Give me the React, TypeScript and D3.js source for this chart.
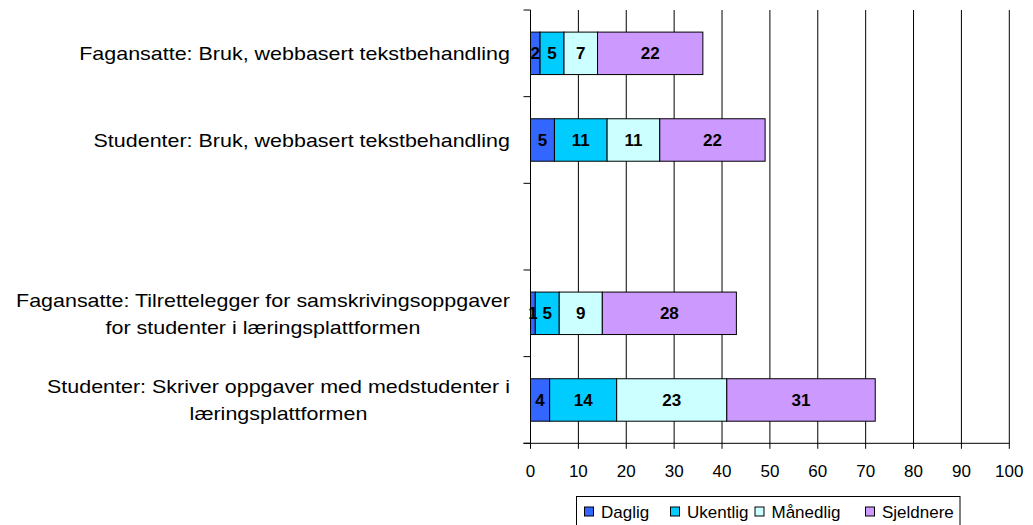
import React, { useEffect, useRef } from "react";
import * as d3 from "d3";

const categories: string[][] = [
  ["Fagansatte: Bruk, webbasert tekstbehandling"],
  ["Studenter: Bruk, webbasert tekstbehandling"],
  [],
  ["Fagansatte: Tilrettelegger for samskrivingsoppgaver", "for studenter i læringsplattformen"],
  ["Studenter: Skriver oppgaver med medstudenter i", "læringsplattformen"],
];

const seriesNames = ["Daglig", "Ukentlig", "Månedlig", "Sjeldnere"];
const daglig = [2, 5, null, 1, 4];
const ukentlig = [5, 11, null, 5, 14];
const manedlig = [7, 11, null, 9, 23];
const sjeldnere = [22, 22, null, 28, 31];
const seriesValues = [daglig, ukentlig, manedlig, sjeldnere];
const xTicks = [0, 10, 20, 30, 40, 50, 60, 70, 80, 90, 100];
const colors = ["#3366FF", "#00CCFF", "#CCFFFF", "#CC99FF"];

const W = 1033;
const H = 525;

export default function App() {
  const ref = useRef<SVGSVGElement>(null);

  useEffect(() => {
    const svg = d3.select(ref.current);
    svg.selectAll("*").remove();
    const font = "'Liberation Sans', Arial, sans-serif";

    const x = d3.scaleLinear().domain([0, 100]).range([530.5, 1009.3]);
    const y = d3
      .scaleBand<number>()
      .domain(categories.map((_, i) => i))
      .range([10, 443.3])
      .padding(0);
    const barH = y.bandwidth() * 0.49;
    const axisY = 443.3;

    // gridlines
    svg
      .append("g")
      .selectAll("line")
      .data(xTicks.filter((t) => t > 0))
      .join("line")
      .attr("x1", (d) => x(d))
      .attr("x2", (d) => x(d))
      .attr("y1", 10)
      .attr("y2", axisY + 5.5)
      .attr("stroke", "#000")
      .attr("stroke-width", 1);

    // bars
    const stacks: { cat: number; s: number; x0: number; x1: number; v: number }[] = [];
    categories.forEach((_, ci) => {
      let acc = 0;
      seriesValues.forEach((arr, si) => {
        const v = arr[ci];
        if (v == null) return;
        stacks.push({ cat: ci, s: si, x0: acc, x1: acc + v, v });
        acc += v;
      });
    });

    const bars = svg.append("g");
    bars
      .selectAll("rect")
      .data(stacks)
      .join("rect")
      .attr("x", (d) => x(d.x0))
      .attr("width", (d) => x(d.x1) - x(d.x0))
      .attr("y", (d) => y(d.cat)! + (y.bandwidth() - barH) / 2)
      .attr("height", barH)
      .attr("fill", (d) => colors[d.s])
      .attr("stroke", "#000")
      .attr("stroke-width", 1);

    bars
      .selectAll("text")
      .data(stacks)
      .join("text")
      .attr("x", (d) => (x(d.x0) + x(d.x1)) / 2)
      .attr("y", (d) => y(d.cat)! + y.bandwidth() / 2 + 6)
      .attr("text-anchor", "middle")
      .attr("font-family", font)
      .attr("font-weight", "bold")
      .attr("font-size", 17)
      .attr("fill", "#000")
      .text((d) => String(d.v));

    // axes
    svg
      .append("line")
      .attr("x1", x(0))
      .attr("x2", x(0))
      .attr("y1", 10)
      .attr("y2", axisY)
      .attr("stroke", "#000");
    svg
      .append("line")
      .attr("x1", x(0) - 7)
      .attr("x2", x(100))
      .attr("y1", axisY)
      .attr("y2", axisY)
      .attr("stroke", "#000");
    const catTicks = categories.map((_, i) => y(i)!).concat([axisY]);
    svg
      .append("g")
      .selectAll("line")
      .data(catTicks)
      .join("line")
      .attr("x1", x(0) - 7)
      .attr("x2", x(0))
      .attr("y1", (d) => d)
      .attr("y2", (d) => d)
      .attr("stroke", "#000");
    svg
      .append("line")
      .attr("x1", x(0))
      .attr("x2", x(0))
      .attr("y1", axisY)
      .attr("y2", axisY + 5.5)
      .attr("stroke", "#000");

    svg
      .append("g")
      .selectAll("text")
      .data(xTicks)
      .join("text")
      .attr("x", (d) => x(d))
      .attr("y", 477)
      .attr("text-anchor", "middle")
      .attr("font-family", font)
      .attr("font-size", 17)
      .attr("fill", "#000")
      .text((d) => String(d));

    // category labels
    const sx = 1.13;
    const lineH = 27;
    categories.forEach((lines, ci) => {
      if (!lines.length) return;
      const cy = y(ci)! + y.bandwidth() / 2;
      const g = svg.append("g");
      const texts = lines.map((l) =>
        g
          .append("text")
          .attr("font-family", font)
          .attr("font-size", 19)
          .attr("fill", "#000")
          .attr("text-anchor", "middle")
          .text(l)
      );
      const maxW =
        d3.max(texts, (t) => (t.node() as SVGTextElement).getComputedTextLength()) || 0;
      const cx = 510 - (maxW * sx) / 2;
      g.attr("transform", `translate(${cx},0) scale(${sx},1)`);
      const firstBase = cy + 7 - ((lines.length - 1) * lineH) / 2;
      texts.forEach((t, i) => t.attr("x", 0).attr("y", firstBase + i * lineH));
    });

    // legend
    const lg = svg.append("g");
    lg.append("rect")
      .attr("x", 576.5)
      .attr("y", 496.5)
      .attr("width", 383.5)
      .attr("height", 40)
      .attr("fill", "#fff")
      .attr("stroke", "#000");
    const legX = [584, 670, 754.5, 865];
    seriesNames.forEach((n, i) => {
      lg.append("rect")
        .attr("x", legX[i] + 0.5)
        .attr("y", 507)
        .attr("width", 9)
        .attr("height", 9)
        .attr("fill", colors[i])
        .attr("stroke", "#000");
      lg.append("text")
        .attr("x", legX[i] + 17)
        .attr("y", 517.5)
        .attr("font-family", font)
        .attr("font-size", 17)
        .attr("fill", "#000")
        .text(n);
    });
  }, []);

  return (
    <svg
      ref={ref}
      width={W}
      height={H}
      style={{ position: "absolute", left: 0, top: 0, background: "#fff" }}
    />
  );
}
